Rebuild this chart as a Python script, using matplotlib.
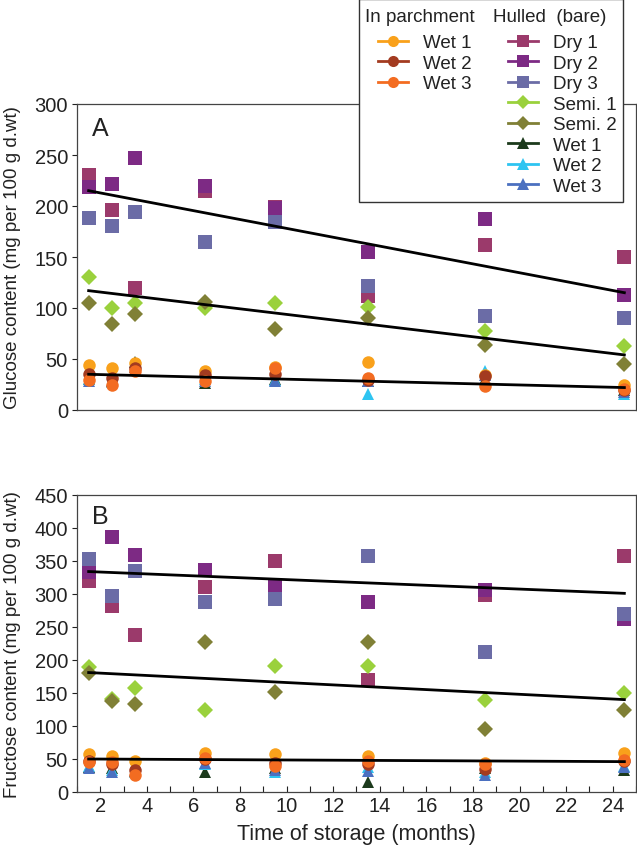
import matplotlib.pyplot as plt
from matplotlib.lines import Line2D
from matplotlib.patches import Rectangle

plt.rcParams['font.family'] = ['Liberation Sans', 'DejaVu Sans']

# sampling times (months)
months = [1.5, 2.5, 3.5, 6.5, 9.5, 13.5, 18.5, 24.5]

# Glucose content (panel A), mg per 100 g d.wt
glu_parch_wet1 = [44, 41, 46, 38, 42, 47, 34, 25]
glu_parch_wet2 = [35, 31, 41, 34, 35, 29, 33, 20]
glu_parch_wet3 = [29, 25, 38, 28, 41, 31, 24, 21]
glu_dry1 = [230, 196, 120, 215, 199, 112, 162, 150]
glu_dry2 = [219, 222, 247, 220, 198, 155, 187, 113]
glu_dry3 = [188, 180, 194, 165, 184, 122, 92, 90]
glu_semi1 = [130, 100, 105, 100, 105, 101, 77, 63]
glu_semi2 = [105, 84, 94, 106, 79, 90, 64, 45]
glu_hull_wet1 = [30, 28, 47, 26, 30, 28, 30, 20]
glu_hull_wet2 = [30, 27, 42, 30, 29, 16, 38, 16]
glu_hull_wet3 = [28, 28, 42, 28, 28, 28, 34, 18]

# Fructose content (panel B), mg per 100 g d.wt
fru_parch_wet1 = [57, 54, 47, 59, 57, 54, 44, 59]
fru_parch_wet2 = [47, 42, 33, 50, 44, 42, 35, 47]
fru_parch_wet3 = [46, 45, 26, 51, 40, 47, 42, 49]
fru_dry1 = [320, 282, 238, 310, 350, 170, 298, 358]
fru_dry2 = [333, 386, 359, 336, 310, 288, 306, 262]
fru_dry3 = [353, 297, 335, 288, 293, 358, 212, 269]
fru_semi1 = [190, 141, 157, 124, 191, 191, 140, 150]
fru_semi2 = [181, 138, 134, 228, 152, 227, 96, 124]
fru_hull_wet1 = [38, 36, 32, 30, 36, 15, 36, 34]
fru_hull_wet2 = [40, 33, 30, 42, 30, 38, 30, 39]
fru_hull_wet3 = [36, 30, 32, 44, 34, 32, 26, 38]

# fitted trend lines (start / end at first and last sampling)
trend_x = [1.5, 24.5]
glu_trends = [[215, 115], [117, 54], [35, 22]]
fru_trends = [[334, 301], [181, 140], [50, 46]]

parch_labels = ['Wet 1', 'Wet 2', 'Wet 3']
parch_colors = ['#f9a11b', '#a33b20', '#f36c21']
hull_labels = ['Dry 1', 'Dry 2', 'Dry 3', 'Semi. 1', 'Semi. 2', 'Wet 1', 'Wet 2', 'Wet 3']
hull_colors = ['#9b3a6b', '#7d2a84', '#6b6ca6', '#9ad13c', '#808036',
               '#1c3a1c', '#2ec4f1', '#4b70c0']
hull_markers = ['s', 's', 's', 'D', 'D', '^', '^', '^']
hull_sizes = [9.5, 9.5, 9.5, 8.5, 8.5, 9, 9, 9]

glu_hull = [glu_dry1, glu_dry2, glu_dry3, glu_semi1, glu_semi2,
            glu_hull_wet1, glu_hull_wet2, glu_hull_wet3]
glu_parch = [glu_parch_wet1, glu_parch_wet2, glu_parch_wet3]
fru_hull = [fru_dry1, fru_dry2, fru_dry3, fru_semi1, fru_semi2,
            fru_hull_wet1, fru_hull_wet2, fru_hull_wet3]
fru_parch = [fru_parch_wet1, fru_parch_wet2, fru_parch_wet3]

fig = plt.figure(figsize=(6.37, 8.53), dpi=100)
W, H = 637, 853
ax_a = fig.add_axes([77 / W, 1 - 411 / H, 559 / W, 306 / H])
ax_b = fig.add_axes([77 / W, 1 - 793 / H, 559 / W, 297 / H])


def draw_panel(ax, hull, parch, trends, ymax, letter, ylabel):
    for vals, c, m, s in zip(hull, hull_colors, hull_markers, hull_sizes):
        ax.plot(months, vals, linestyle='none', marker=m, ms=s, color=c,
                markeredgewidth=0, zorder=2)
    for vals, c in zip(parch, parch_colors):
        ax.plot(months, vals, linestyle='none', marker='o', ms=9, color=c,
                markeredgewidth=0, zorder=3)
    for t in trends:
        ax.plot(trend_x, t, color='black', lw=2, zorder=4)

    ax.set_xlim(1, 25)
    ax.set_ylim(0, ymax)
    ax.set_yticks(range(0, ymax + 1, 50))
    ax.tick_params(axis='y', direction='out', length=3.5, width=0.8,
                   labelsize=14.5, colors='#222222', pad=3)
    for sp in ax.spines.values():
        sp.set_color('#444444')
        sp.set_linewidth(0.9)
    ax.text(0.027, 0.92 if letter == 'A' else 0.93, letter, transform=ax.transAxes,
            fontsize=18, va='center', ha='left', color='#222222')
    ax.set_ylabel(ylabel, fontsize=13.5, color='#222222')
    ax.yaxis.set_label_coords(-0.1, 0.5)


draw_panel(ax_a, glu_hull, glu_parch, glu_trends, 300, 'A',
           'Glucose content (mg per 100 g d.wt)')
draw_panel(ax_b, fru_hull, fru_parch, fru_trends, 450, 'B',
           'Fructose content (mg per 100 g d.wt)')

ax_a.tick_params(axis='x', bottom=False, labelbottom=False)
ax_b.set_xticks(range(2, 25, 2))
ax_b.set_xticks(range(1, 26, 1), minor=True)
ax_b.tick_params(axis='x', which='both', direction='in', length=4, width=0.8,
                 labelsize=14.5, colors='#222222', pad=3)
ax_b.set_xlabel('Time of storage (months)', fontsize=15.5, color='#222222', labelpad=6)

# legend box sitting over the top of panel A
fig.patches.append(Rectangle((359 / W, 1 - 203 / H), 264 / W, 203 / H,
                             transform=fig.transFigure, facecolor='white',
                             edgecolor='#333333', lw=1.0, zorder=10))
fig.text(365 / W, 1 - 17 / H, 'In parchment', fontsize=13.5, va='center',
         ha='left', color='#222222', zorder=11)
fig.text(493 / W, 1 - 17 / H, 'Hulled  (bare)', fontsize=13.5, va='center',
         ha='left', color='#222222', zorder=11)

parch_handles = [Line2D([], [], color=c, marker='o', ms=8, lw=2, markeredgewidth=0)
                 for c in parch_colors]
hull_handles = [Line2D([], [], color=c, marker=m, ms=s - 1, lw=2, markeredgewidth=0)
                for c, m, s in zip(hull_colors, hull_markers, hull_sizes)]

leg_kw = dict(frameon=False, fontsize=13.5, handlelength=1.6, handletextpad=0.8,
              labelspacing=0.18, borderpad=0, borderaxespad=0, loc='upper left')
leg1 = fig.legend(parch_handles, parch_labels, bbox_to_anchor=(378 / W, 1 - 35 / H), **leg_kw)
leg2 = fig.legend(hull_handles, hull_labels, bbox_to_anchor=(508 / W, 1 - 35 / H), **leg_kw)
for lg in (leg1, leg2):
    lg.set_zorder(12)
    for t in lg.get_texts():
        t.set_color('#222222')

fig.savefig('out.png', dpi=100)
